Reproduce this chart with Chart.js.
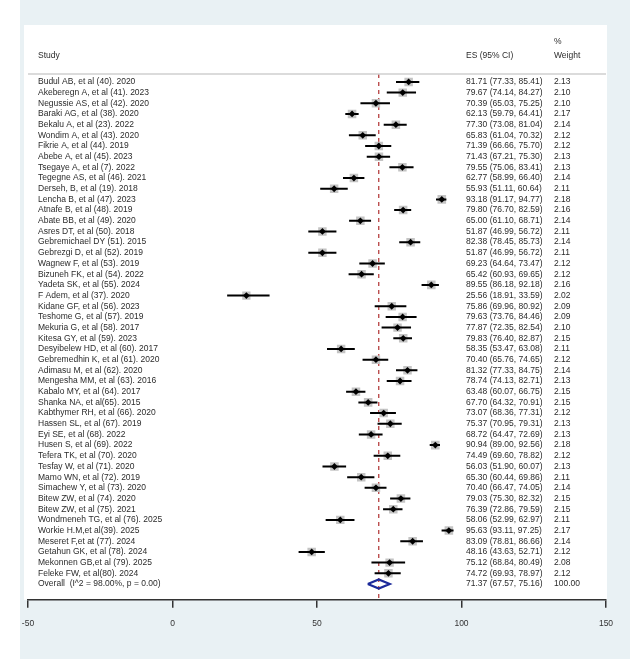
<!DOCTYPE html>
<html>
<head>
<title>Forest plot</title>
<script src="https://cdn.jsdelivr.net/npm/chart.js"></script>
<style>
  html, body { margin: 0; padding: 0; background: #fff; }
  #wrap { width: 630px; height: 659px; }
</style>
</head>
<body>
<div id="wrap"><canvas id="forest"></canvas></div>
<script>
// study rows, top to bottom
const studies = [
  'Budul AB, et al (40). 2020', 'Akeberegn A, et al (41). 2023', 'Negussie AS, et al (42). 2020',
  'Baraki AG, et al (38). 2020', 'Bekalu A, et al (23). 2022', 'Wondim A, et al (43). 2020',
  'Fikrie A, et al (44). 2019', 'Abebe A, et al (45). 2023', 'Tsegaye A, et al (7). 2022',
  'Tegegne AS, et al (46). 2021', 'Derseh, B, et al (19). 2018', 'Lencha B, et al (47). 2023',
  'Atnafe B, et al (48). 2019', 'Abate BB, et al (49). 2020', 'Asres DT, et al (50). 2018',
  'Gebremichael DY (51). 2015', 'Gebrezgi D, et al (52). 2019', 'Wagnew F, et al (53). 2019',
  'Bizuneh FK, et al (54). 2022', 'Yadeta SK, et al (55). 2024', 'F Adem, et al (37). 2020',
  'Kidane GF, et al (56). 2023', 'Teshome G, et al (57). 2019', 'Mekuria G, et al (58). 2017',
  'Kitesa GY, et al (59). 2023', 'Desyibelew HD, et al (60). 2017', 'Gebremedhin K, et al (61). 2020',
  'Adimasu M, et al (62). 2020', 'Mengesha MM, et al (63). 2016', 'Kabalo MY, et al (64). 2017',
  'Shanka NA, et al(65). 2015', 'Kabthymer RH, et al (66). 2020', 'Hassen SL, et al (67). 2019',
  'Eyi SE, et al (68). 2022', 'Husen S, et al (69). 2022', 'Tefera TK, et al (70). 2020',
  'Tesfay W, et al (71). 2020', 'Mamo WN, et al (72). 2019', 'Simachew Y, et al (73). 2020',
  'Bitew ZW, et al (74). 2020', 'Bitew ZW, et al (75). 2021', 'Wondmeneh TG, et al (76). 2025',
  'Workie H.M,et al(39). 2025', 'Meseret F,et at (77). 2024', 'Getahun GK, et al (78). 2024',
  'Mekonnen GB,et al (79). 2025', 'Feleke FW, et al(80). 2024'
];
const es = [81.71, 79.67, 70.39, 62.13, 77.30, 65.83, 71.39, 71.43, 79.55, 62.77, 55.93, 93.18,
  79.80, 65.00, 51.87, 82.38, 51.87, 69.23, 65.42, 89.55, 25.56, 75.86, 79.63, 77.87, 79.83,
  58.35, 70.40, 81.32, 78.74, 63.48, 67.70, 73.07, 75.37, 68.72, 90.94, 74.49, 56.03, 65.30,
  70.40, 79.03, 76.39, 58.06, 95.63, 83.09, 48.16, 75.12, 74.72];
const lower = [77.33, 74.14, 65.03, 59.79, 73.08, 61.04, 66.66, 67.21, 75.06, 58.99, 51.11, 91.17,
  76.70, 61.10, 46.99, 78.45, 46.99, 64.64, 60.93, 86.18, 18.91, 69.96, 73.76, 72.35, 76.40,
  53.47, 65.76, 77.33, 74.13, 60.07, 64.32, 68.36, 70.95, 64.47, 89.00, 69.60, 51.90, 60.44,
  66.47, 75.30, 72.86, 52.99, 93.11, 78.81, 43.63, 68.84, 69.93];
const upper = [85.41, 84.27, 75.25, 64.41, 81.04, 70.32, 75.70, 75.30, 83.41, 66.40, 60.64, 94.77,
  82.59, 68.71, 56.72, 85.73, 56.72, 73.47, 69.65, 92.18, 33.59, 80.92, 84.46, 82.54, 82.87,
  63.08, 74.65, 84.75, 82.71, 66.75, 70.91, 77.31, 79.31, 72.69, 92.56, 78.82, 60.07, 69.86,
  74.05, 82.32, 79.59, 62.97, 97.25, 86.66, 52.71, 80.49, 78.97];
const weights = [2.13, 2.10, 2.10, 2.17, 2.14, 2.12, 2.12, 2.13, 2.13, 2.14, 2.11, 2.18,
  2.16, 2.14, 2.11, 2.14, 2.11, 2.12, 2.12, 2.16, 2.02, 2.09, 2.09, 2.10, 2.15,
  2.11, 2.12, 2.14, 2.13, 2.15, 2.15, 2.12, 2.13, 2.13, 2.18, 2.12, 2.13, 2.11,
  2.14, 2.15, 2.15, 2.11, 2.17, 2.14, 2.12, 2.08, 2.12];

const overallLabel = 'Overall  (I^2 = 98.00%, p = 0.00)';
const overallEs = 71.37;
const overallLo = 67.57;
const overallHi = 75.16;
const overallWeight = 100.00;

const xTicks = [-50, 0, 50, 100, 150];

const overallRow = studies.length;
const yTop = -0.74;
const yBottom = overallRow + 1.48;
const FONT = '"Liberation Sans", Arial, sans-serif';

// CI segments, broken by nulls
const ciPoints = [];
studies.forEach((s, i) => {
  ciPoints.push({ x: lower[i], y: i }, { x: upper[i], y: i }, { x: null, y: null });
});

const bgPlugin = {
  id: 'bg',
  beforeDraw(chart) {
    const ctx = chart.ctx;
    const a = chart.chartArea;
    ctx.save();
    ctx.fillStyle = '#ffffff';
    ctx.fillRect(0, 0, chart.width, chart.height);
    ctx.fillStyle = '#e9f1f4';
    ctx.fillRect(20, 0, chart.width - 20, chart.height);
    ctx.fillStyle = '#ffffff';
    ctx.fillRect(a.left - 4, 25, a.right - a.left + 5, a.bottom - 25);
    ctx.restore();
  }
};

const textPlugin = {
  id: 'forestText',
  afterDraw(chart) {
    const ctx = chart.ctx;
    const a = chart.chartArea;
    const ys = chart.scales.y;
    const colStudy = 38, colEs = 466, colW = 554;
    ctx.save();
    // header rule
    ctx.strokeStyle = '#cfcfcf';
    ctx.lineWidth = 1.5;
    ctx.beginPath();
    ctx.moveTo(a.left, a.top);
    ctx.lineTo(a.right, a.top);
    ctx.stroke();

    ctx.fillStyle = '#2b2b2b';
    ctx.font = '8.5px ' + FONT;
    ctx.textBaseline = 'middle';
    ctx.textAlign = 'left';
    ctx.fillText('Study', colStudy, a.top - 18);
    ctx.fillText('ES (95% CI)', colEs, a.top - 18);
    ctx.fillText('%', colW, a.top - 32);
    ctx.fillText('Weight', colW, a.top - 18);

    studies.forEach((s, i) => {
      const y = ys.getPixelForValue(i);
      ctx.fillText(s, colStudy, y);
      ctx.fillText(es[i].toFixed(2) + ' (' + lower[i].toFixed(2) + ', ' + upper[i].toFixed(2) + ')', colEs, y);
      ctx.fillText(weights[i].toFixed(2), colW, y);
    });
    const yo = ys.getPixelForValue(overallRow);
    ctx.fillText(overallLabel, colStudy, yo);
    ctx.fillText(overallEs.toFixed(2) + ' (' + overallLo.toFixed(2) + ', ' + overallHi.toFixed(2) + ')', colEs, yo);
    ctx.fillText(overallWeight.toFixed(2), colW, yo);
    ctx.restore();
  }
};

new Chart(document.getElementById('forest'), {
  type: 'scatter',
  data: {
    datasets: [
      {
        label: 'ES',
        data: es.map((v, i) => ({ x: v, y: i })),
        pointStyle: 'rectRot',
        pointRadius: 3.4,
        backgroundColor: '#000',
        borderColor: '#000',
        borderWidth: 0
      },
      {
        label: 'CI',
        data: ciPoints,
        showLine: true,
        spanGaps: false,
        borderColor: '#000',
        borderWidth: 2,
        pointRadius: 0
      },
      {
        label: 'Weight',
        data: es.map((v, i) => ({ x: v, y: i })),
        pointStyle: 'rect',
        pointRadius: weights.map(w => 6 * Math.sqrt(w / 2.13)),
        backgroundColor: '#c4c4c4',
        borderWidth: 0
      },
      {
        label: 'Overall',
        data: [
          { x: overallLo, y: overallRow },
          { x: overallEs, y: overallRow - 0.42 },
          { x: overallHi, y: overallRow },
          { x: overallEs, y: overallRow + 0.42 },
          { x: overallLo, y: overallRow }
        ],
        showLine: true,
        borderColor: '#1c2a9a',
        borderWidth: 2.2,
        pointRadius: 0,
        fill: false
      },
      {
        label: 'Pooled line',
        data: [{ x: overallEs, y: yTop }, { x: overallEs, y: yBottom }],
        showLine: true,
        borderColor: '#b03030',
        borderWidth: 1.2,
        borderDash: [4, 4],
        pointRadius: 0
      }
    ]
  },
  options: {
    responsive: true,
    maintainAspectRatio: false,
    animation: false,
    layout: { padding: { left: 28, right: 24, top: 74, bottom: 19 } },
    plugins: { legend: { display: false }, tooltip: { enabled: false } },
    scales: {
      x: {
        type: 'linear',
        min: -50,
        max: 150,
        afterBuildTicks(axis) { axis.ticks = xTicks.map(v => ({ value: v })); },
        grid: { display: true, drawOnChartArea: false, drawTicks: true, tickLength: 8, color: '#333', lineWidth: 1.5 },
        border: { display: true, color: '#333', width: 1.5 },
        ticks: { color: '#333', font: { family: FONT, size: 8.5 }, padding: 11, maxRotation: 0 }
      },
      y: {
        type: 'linear',
        reverse: true,
        min: yTop,
        max: yBottom,
        display: false
      }
    }
  },
  plugins: [bgPlugin, textPlugin]
});
</script>
</body>
</html>
